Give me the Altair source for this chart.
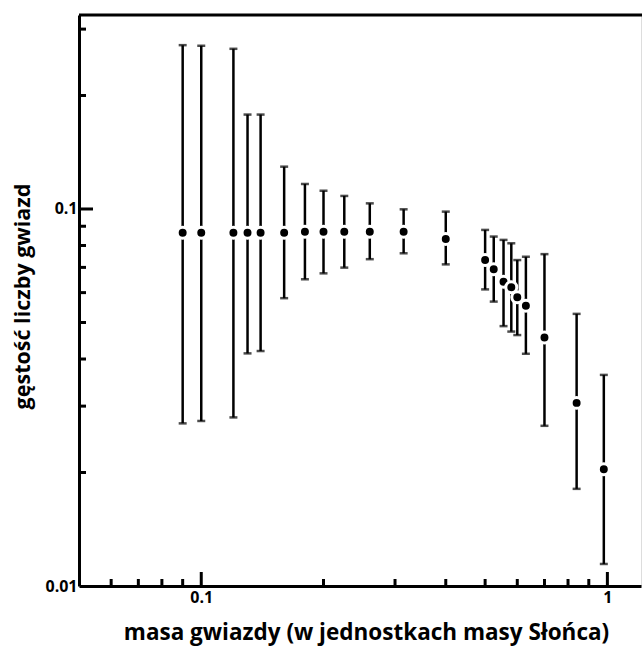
import altair as alt
import pandas as pd

# stellar mass (solar masses) and number density with error range
mass = [0.09, 0.1, 0.12, 0.13, 0.14, 0.16, 0.18, 0.2, 0.225, 0.26, 0.315, 0.4,
        0.5, 0.525, 0.555, 0.58, 0.6, 0.63, 0.7, 0.84, 0.98]
density = [0.0865, 0.0865, 0.0865, 0.0865, 0.0865, 0.0865, 0.087, 0.087, 0.087, 0.087, 0.087, 0.0833,
           0.0732, 0.0692, 0.0641, 0.062, 0.0583, 0.0554, 0.0456, 0.0306, 0.0204]
upper = [0.272, 0.271, 0.266, 0.178, 0.178, 0.1295, 0.1165, 0.1118, 0.1083, 0.1035, 0.0998, 0.0984,
         0.088, 0.0845, 0.0828, 0.0811, 0.0732, 0.0747, 0.0759, 0.0527, 0.0363]
lower = [0.027, 0.0274, 0.028, 0.0414, 0.042, 0.058, 0.0651, 0.0675, 0.0699, 0.0736, 0.0763, 0.0713,
         0.0612, 0.0568, 0.0489, 0.0473, 0.0463, 0.0413, 0.0266, 0.0181, 0.01144]

x_major = [0.1, 1]
x_minor = [0.06, 0.07, 0.08, 0.09, 0.2, 0.3, 0.4, 0.5, 0.6, 0.7, 0.8, 0.9]
y_major = [0.01, 0.1]
y_minor = [0.02, 0.03, 0.04, 0.05, 0.06, 0.07, 0.08, 0.09, 0.2, 0.3]

x_domain = [0.05, 1.21]
y_domain = [0.01, 0.327]

W, H = 562, 571
FONT = "Open Sans"

df = pd.DataFrame({"mass": mass, "density": density, "upper": upper, "lower": lower})

xs = alt.Scale(type="log", domain=x_domain, nice=False)
ys = alt.Scale(type="log", domain=y_domain, nice=False)

x_axis = alt.Axis(
    values=x_major, format="~g", ticks=False, grid=False,
    domainWidth=3, domainColor="black",
    labelFont=FONT, labelFontSize=16, labelFontWeight="bold", labelColor="black",
    labelPadding=3,
    title="masa gwiazdy (w jednostkach masy Słońca)",
    titleFont=FONT, titleFontSize=22.5, titleFontWeight="bold", titleColor="black",
    titleBaseline="alphabetic", titleY=53, titleX=287, titleAlign="center", titleAnchor="middle",
)
y_axis = alt.Axis(
    values=y_major, format="~g", ticks=False, grid=False,
    domainWidth=3, domainColor="black",
    labelFont=FONT, labelFontSize=16, labelFontWeight="bold", labelColor="black",
    labelPadding=2,
    title="gęstość liczby gwiazd",
    titleFont=FONT, titleFontSize=21.5, titleFontWeight="bold", titleColor="black",
    titleBaseline="alphabetic", titleX=-50, titleY=281, titleAlign="center", titleAngle=-90,
)

base = alt.Chart(df)

bars = base.mark_rule(color="black", strokeWidth=2.5).encode(
    x=alt.X("mass:Q", scale=xs, axis=x_axis),
    y=alt.Y("lower:Q", scale=ys, axis=y_axis),
    y2="upper:Q",
)
cap_top = base.mark_tick(color="black", orient="horizontal", size=8, thickness=2.5).encode(
    x=alt.X("mass:Q", scale=xs), y=alt.Y("upper:Q", scale=ys)
)
cap_bot = base.mark_tick(color="black", orient="horizontal", size=8, thickness=2.5).encode(
    x=alt.X("mass:Q", scale=xs), y=alt.Y("lower:Q", scale=ys)
)
dots = base.mark_circle(color="black", size=120, opacity=1, stroke="white", strokeWidth=3).encode(
    x=alt.X("mass:Q", scale=xs), y=alt.Y("density:Q", scale=ys)
)

# inward axis ticks
xt_minor = alt.Chart(pd.DataFrame({"v": x_minor})).mark_rule(color="black", strokeWidth=3).encode(
    x=alt.X("v:Q", scale=xs), y=alt.value(H), y2=alt.value(H - 7)
)
xt_major = alt.Chart(pd.DataFrame({"v": x_major})).mark_rule(color="black", strokeWidth=3).encode(
    x=alt.X("v:Q", scale=xs), y=alt.value(H), y2=alt.value(H - 14)
)
yt_minor = alt.Chart(pd.DataFrame({"v": y_minor})).mark_rule(color="black", strokeWidth=3).encode(
    y=alt.Y("v:Q", scale=ys), x=alt.value(0), x2=alt.value(7)
)
yt_major = alt.Chart(pd.DataFrame({"v": [0.1]})).mark_rule(color="black", strokeWidth=3).encode(
    y=alt.Y("v:Q", scale=ys), x=alt.value(0), x2=alt.value(14)
)
top_border = alt.Chart(pd.DataFrame({"v": [0]})).mark_rule(color="black", strokeWidth=3).encode(
    x=alt.value(0), x2=alt.value(W + 5), y=alt.value(0)
)

chart = alt.layer(
    bars, cap_top, cap_bot, dots, xt_minor, xt_major, yt_minor, yt_major, top_border
).properties(
    width=W, height=H,
    autosize=alt.AutoSizeParams(type="none"),
    padding={"left": 79, "top": 15, "right": 1, "bottom": 60},
).configure_view(stroke=None).configure(background="white")

chart.save("out.html", embed_options={"renderer": "svg", "actions": False})
